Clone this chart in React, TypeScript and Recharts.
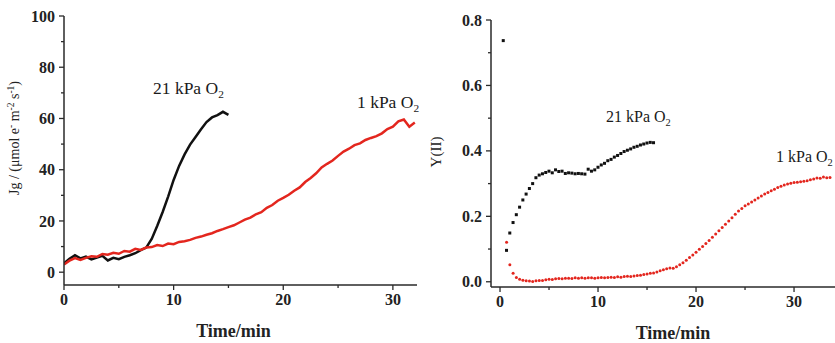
import React from 'react';
import { LineChart, Line, ScatterChart, Scatter, XAxis, YAxis } from 'recharts';

// left panel: Jg traces, one value every 0.5 min from t = 0
const jgStep = 0.5;
const jg21kPa = [
  3.5, 5.2, 6.6, 5.4, 6.1, 5.0, 5.7, 6.4, 4.6, 5.6,
  5.1, 6.0, 6.6, 7.4, 8.6, 9.6, 13.0, 18.0, 23.5, 29.5,
  36.0, 41.5, 46.0, 49.8, 52.8, 55.8, 58.6, 60.4, 61.3, 62.6, 61.4,
];
const jg1kPa = [
  3, 4.5, 5.5, 4.8, 5.6, 6.2, 6.0, 7.1, 6.8, 7.6,
  7.2, 8.3, 8.0, 9.1, 8.7, 9.6, 9.8, 10.6, 10.2, 11.2,
  10.9, 11.8, 12.1, 12.6, 13.4, 13.9, 14.6, 15.2, 16.1, 16.8,
  17.6, 18.3, 19.4, 20.5, 21.3, 22.6, 23.4, 25.1, 26.2, 27.9,
  29.0, 30.2, 31.8, 33.1, 35.2, 36.8, 38.6, 40.9, 42.3, 43.6,
  45.4, 47.1, 48.2, 49.6, 50.3, 51.6, 52.4, 53.1, 54.2, 55.9,
  56.8, 58.9, 59.6, 56.8, 58.4,
];

// right panel: Y(II), one reading every 20 s
const yiiStep = 1 / 3;
const yii21Start = 0.33;
const yii21kPa = [
  0.737, 0.096, 0.149, 0.181, 0.205, 0.228, 0.250, 0.268, 0.285, 0.300,
  0.318, 0.326, 0.330, 0.334, 0.338, 0.333, 0.342, 0.337, 0.338, 0.331,
  0.333, 0.332, 0.330, 0.331, 0.330, 0.329, 0.344, 0.338, 0.342, 0.350,
  0.357, 0.362, 0.370, 0.374, 0.381, 0.386, 0.392, 0.398, 0.402, 0.406,
  0.411, 0.414, 0.418, 0.421, 0.424, 0.426, 0.425,
];
const yii1Start = 0.67;
const yii1kPa = [
  0.121, 0.052, 0.026, 0.013, 0.008, 0.005, 0.003, 0.002, 0.001, 0.003,
  0.004, 0.004, 0.006, 0.008, 0.007, 0.009, 0.010, 0.009, 0.011, 0.011,
  0.010, 0.012, 0.011, 0.012, 0.011, 0.012, 0.012, 0.011, 0.012, 0.013,
  0.012, 0.013, 0.014, 0.013, 0.015, 0.014, 0.016, 0.017, 0.016, 0.018,
  0.019, 0.020, 0.022, 0.024, 0.026, 0.027, 0.030, 0.034, 0.037, 0.040,
  0.042, 0.041, 0.046, 0.052, 0.058, 0.066, 0.074, 0.082, 0.090, 0.099,
  0.108, 0.117, 0.126, 0.136, 0.146, 0.156, 0.166, 0.176, 0.186, 0.196,
  0.206, 0.216, 0.224, 0.232, 0.238, 0.244, 0.250, 0.256, 0.262, 0.268,
  0.273, 0.278, 0.283, 0.288, 0.292, 0.296, 0.299, 0.301, 0.303, 0.304,
  0.306, 0.307, 0.309, 0.312, 0.314, 0.317, 0.316, 0.320, 0.318, 0.319,
];

const leftXTicks = [0, 5, 10, 15, 20, 25, 30];
const leftXMajors = [0, 10, 20, 30];
const leftYTicks = [0, 10, 20, 30, 40, 50, 60, 70, 80, 90, 100];
const leftYMajors = [0, 20, 40, 60, 80, 100];
const rightXTicks = [0, 5, 10, 15, 20, 25, 30];
const rightXMajors = [0, 10, 20, 30];
const rightYTicks = [0, 0.1, 0.2, 0.3, 0.4, 0.5, 0.6, 0.7, 0.8];
const rightYMajors = [0, 0.2, 0.4, 0.6, 0.8];

const toSeries = (vals: number[], start: number, step: number) =>
  vals.map((v, i) => ({ t: start + i * step, v }));

const FONT = "'Liberation Serif', 'Times New Roman', serif";
const AXIS = '#2a2a2a';
const RED = '#e3261e';
const BLACK = '#111';

const XTick = (props: any) => {
  const { x, y, payload, majors, fmt } = props;
  const major = majors.includes(payload.value);
  return (
    <g>
      <line x1={x} y1={y} x2={x} y2={y + (major ? 5 : 3)} stroke={AXIS} strokeWidth={1.3} />
      {major && (
        <text x={x} y={y + 20} textAnchor="middle" fill="#222" fontFamily={FONT} fontWeight="bold" fontSize={16}>
          {fmt ? fmt(payload.value) : payload.value}
        </text>
      )}
    </g>
  );
};

const YTick = (props: any) => {
  const { x, y, payload, majors, fmt } = props;
  const major = majors.includes(payload.value);
  return (
    <g>
      <line x1={x - (major ? 5 : 3)} y1={y} x2={x} y2={y} stroke={AXIS} strokeWidth={1.3} />
      {major && (
        <text x={x - 9} y={y} dy="0.35em" textAnchor="end" fill="#222" fontFamily={FONT} fontWeight="bold" fontSize={16}>
          {fmt ? fmt(payload.value) : payload.value}
        </text>
      )}
    </g>
  );
};

const XTitle = (props: any) => {
  const { viewBox, shift } = props;
  return (
    <text x={viewBox.x + viewBox.width / 2 + shift} y={viewBox.y + 52} textAnchor="middle" fill="#222"
      fontFamily={FONT} fontWeight="bold" fontSize={18}>
      Time/min
    </text>
  );
};

const JgTitle = (props: any) => {
  const { viewBox } = props;
  const cx = viewBox.x + 19;
  const cy = viewBox.y + 122;
  return (
    <text x={cx} y={cy} transform={`rotate(-90 ${cx} ${cy})`} textAnchor="middle" fill="#222" fontFamily={FONT} fontSize={14}>
      Jg / (μmol e<tspan dy={-5} fontSize={9.5}>-</tspan>
      <tspan dy={5}> m</tspan><tspan dy={-5} fontSize={9.5}>-2</tspan>
      <tspan dy={5}> s</tspan><tspan dy={-5} fontSize={9.5}>-1</tspan>
      <tspan dy={5}>)</tspan>
    </text>
  );
};

const YiiTitle = (props: any) => {
  const { viewBox } = props;
  const cx = viewBox.x + 21;
  const cy = viewBox.y + 132;
  return (
    <text x={cx} y={cy} transform={`rotate(-90 ${cx} ${cy})`} textAnchor="middle" fill="#222" fontFamily={FONT} fontSize={15}>
      Y(II)
    </text>
  );
};

const Note = ({ x, y, text, size }: { x: number; y: number; text: string; size: number }) => (
  <text x={x} y={y} fill="#1a1a1a" fontFamily={FONT} fontSize={size}>
    {text} O<tspan dy={4} fontSize={size * 0.65}>2</tspan>
  </text>
);

const Square = (props: any) => (
  <rect x={props.cx - 1.5} y={props.cy - 1.5} width={3} height={3} fill={BLACK} />
);
const RedDot = (props: any) => <circle cx={props.cx} cy={props.cy} r={1.5} fill={RED} />;

export default function App() {
  const jg21 = toSeries(jg21kPa, 0, jgStep);
  const jg1 = toSeries(jg1kPa, 0, jgStep);
  const y21 = toSeries(yii21kPa, yii21Start, yiiStep);
  const y1 = toSeries(yii1kPa, yii1Start, yiiStep);
  const fmt1 = (v: number) => v.toFixed(1);

  return (
    <div style={{ position: 'absolute', left: 0, top: 0, width: 835, height: 343, overflow: 'hidden', background: '#fff' }}>
      <div style={{ position: 'absolute', left: 0, top: 0 }}>
        <LineChart width={420} height={343} margin={{ top: 16, right: 3, bottom: 0, left: 0 }}>
          <XAxis type="number" dataKey="t" domain={[0, 32.2]} allowDataOverflow ticks={leftXTicks} interval={0}
            height={58} tickSize={0} tickMargin={0} tickLine={false}
            axisLine={{ stroke: AXIS, strokeWidth: 1.5 }}
            tick={(p: any) => <XTick {...p} majors={leftXMajors} />}
            label={<XTitle shift={-7} />} />
          <YAxis type="number" domain={[-5, 100]} allowDataOverflow ticks={leftYTicks} interval={0}
            width={64} tickSize={0} tickMargin={0} tickLine={false}
            axisLine={{ stroke: AXIS, strokeWidth: 1.5 }}
            tick={(p: any) => <YTick {...p} majors={leftYMajors} />}
            label={<JgTitle />} />
          <Line data={jg21} dataKey="v" stroke={BLACK} strokeWidth={2.5} dot={false} isAnimationActive={false} />
          <Line data={jg1} dataKey="v" stroke={RED} strokeWidth={2.5} dot={false} isAnimationActive={false} />
        </LineChart>
      </div>
      <div style={{ position: 'absolute', left: 420, top: 0 }}>
        <ScatterChart width={415} height={343} margin={{ top: 20, right: 0, bottom: 0, left: 0 }}>
          <XAxis type="number" dataKey="t" domain={[-0.92, 34.18]} allowDataOverflow ticks={rightXTicks} interval={0}
            height={56} tickSize={0} tickMargin={0} tickLine={false}
            axisLine={{ stroke: AXIS, strokeWidth: 1.5 }}
            tick={(p: any) => <XTick {...p} majors={rightXMajors} />}
            label={<XTitle shift={10} />} />
          <YAxis type="number" dataKey="v" domain={[-0.016, 0.8]} allowDataOverflow ticks={rightYTicks} interval={0}
            width={71} tickSize={0} tickMargin={0} tickLine={false}
            axisLine={{ stroke: AXIS, strokeWidth: 1.5 }}
            tick={(p: any) => <YTick {...p} majors={rightYMajors} fmt={fmt1} />}
            label={<YiiTitle />} />
          <Scatter data={y21} shape={Square} isAnimationActive={false} />
          <Scatter data={y1} shape={RedDot} isAnimationActive={false} />
        </ScatterChart>
      </div>
      <svg width={835} height={343} style={{ position: 'absolute', left: 0, top: 0, pointerEvents: 'none' }}>
        <Note x={153} y={94} text="21 kPa" size={17.5} />
        <Note x={357} y={108} text="1 kPa" size={17.5} />
        <Note x={606} y={122} text="21 kPa" size={16} />
        <Note x={776} y={162} text="1 kPa" size={16} />
      </svg>
    </div>
  );
}
